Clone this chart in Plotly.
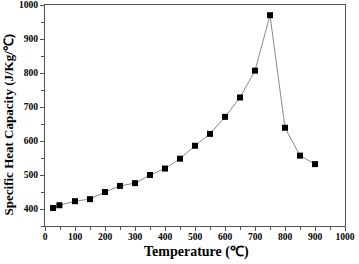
import plotly.graph_objects as go

temperature = [27, 48, 100, 150, 200, 250, 300, 350, 400, 450, 500, 550, 600, 650, 700, 750, 800, 850, 900]
heat_capacity = [403, 411, 423, 429, 450, 468, 476, 500, 519, 548, 586, 621, 671, 728, 807, 970, 639, 557, 532]

x_ticks = [0, 100, 200, 300, 400, 500, 600, 700, 800, 900, 1000]
y_ticks = [400, 500, 600, 700, 800, 900, 1000]

font_family = "Liberation Serif"

fig = go.Figure()
fig.add_trace(go.Scatter(
    x=temperature, y=heat_capacity, mode="lines+markers",
    line=dict(color="#8a8a8a", width=1),
    marker=dict(symbol="square", size=6, color="black"),
    showlegend=False,
))

axis_common = dict(
    showgrid=False, zeroline=False, showline=True, linecolor="#555555", linewidth=1.2,
    mirror=True, ticks="outside", ticklen=4, tickcolor="#555555", tickwidth=1,
    tickfont=dict(family=font_family, size=9.5, color="black", weight="bold"),
    automargin=False, ticklabeloverflow="allow",
)

fig.update_xaxes(
    range=[0, 1000], tickvals=x_ticks, ticktext=[str(v) for v in x_ticks],
    minor=dict(ticks="outside", ticklen=2.5, tickcolor="#555555", dtick=50),
    ticklabelstandoff=-3,
    **axis_common,
)
fig.update_yaxes(
    range=[350, 1000], tickvals=y_ticks, ticktext=[str(v) for v in y_ticks],
    minor=dict(ticks="outside", ticklen=2.5, tickcolor="#555555", dtick=50, tick0=350),
    **axis_common,
)

fig.add_annotation(
    text="Temperature (℃)", xref="paper", yref="paper", x=0.505, y=-0.118,
    xanchor="center", yanchor="middle", showarrow=False,
    font=dict(family=font_family, size=14, color="black", weight="bold"),
)
fig.add_annotation(
    text="Specific Heat Capacity (J/Kg/℃)", xref="paper", yref="paper", x=-0.123, y=0.46,
    xanchor="center", yanchor="middle", showarrow=False, textangle=-90,
    font=dict(family=font_family, size=13, color="black", weight="bold"),
)

fig.update_layout(
    width=359, height=264,
    margin=dict(l=45, r=14, t=5, b=38),
    paper_bgcolor="white", plot_bgcolor="white",
)

fig.write_html(
    "out.html",
    config={"displayModeBar": False},
    post_script="document.body.style.margin='0';document.body.style.overflow='hidden';",
)
